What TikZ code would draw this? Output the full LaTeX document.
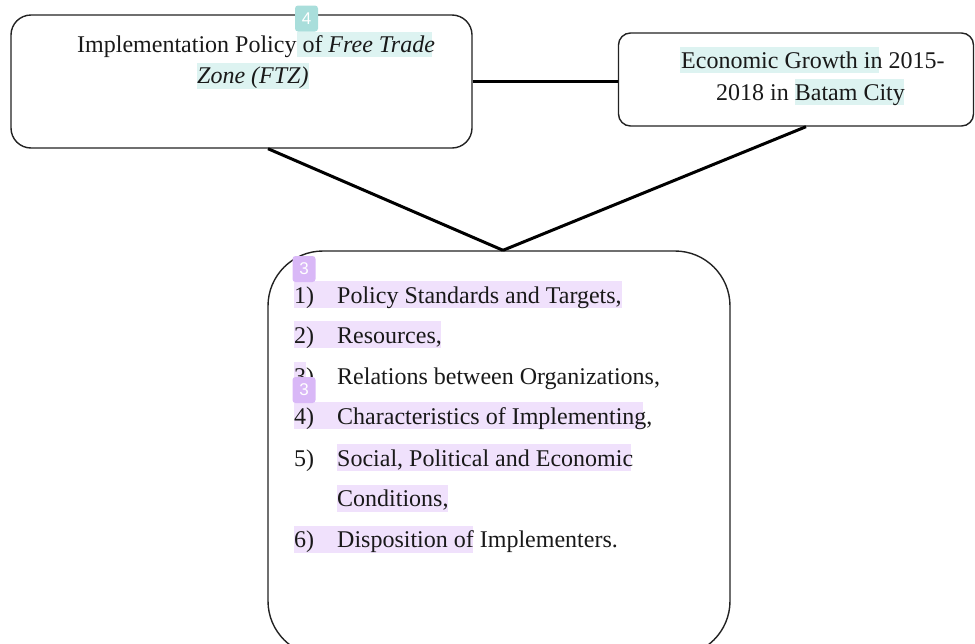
\documentclass[tikz,border=0pt]{standalone}
\usepackage{fontspec}
\setmainfont{Liberation Serif}
\newfontfamily\tagfont{Liberation Sans}
\usetikzlibrary{calc}
\definecolor{tealhl}{HTML}{DDF3F1}
\definecolor{tealtag}{HTML}{A9DEDB}
\definecolor{purphl}{HTML}{F0E1FC}
\definecolor{purptag}{HTML}{D9B8F7}
\definecolor{boxline}{HTML}{222222}
\tikzset{
  box/.style={draw=boxline, line width=1.4pt, rounded corners=#1},
  conn/.style={draw=black, line width=3pt},
  txt/.style={inner sep=0pt, anchor=base west, font=\fontsize{24}{28}\selectfont, text=black!90},
  tag/.style={fill=#1, rounded corners=3pt, inner sep=0pt, minimum width=23pt, minimum height=26pt, text=white, font=\tagfont\fontsize{17}{17}\selectfont},
}
\begin{document}
\begin{tikzpicture}[x=1pt,y=-1pt]
\useasboundingbox (0,0) rectangle (975,643);
\clip (0,0) rectangle (975,643);
% boxes
\node[box=20pt, minimum width=461pt, minimum height=133pt, inner sep=0pt] (b1) at (241.5,81.5) {};
\node[box=12pt, minimum width=355pt, minimum height=93pt, inner sep=0pt] (b2) at (796,79.5) {};
\node[box=55pt, minimum width=462pt, minimum height=405pt, inner sep=0pt] (b3) at (499,453.5) {};
% connectors
\coordinate (apex) at ($(b3.north)+(4,0)$);
\draw[conn] (b1.east) -- (b1.east -| b2.west);
\draw[conn] ($(b1.south)+(26.5,0)$) -- (apex);
\draw[conn] ($(b2.south)+(10,0)$) -- (apex);
% highlights
\fill[tealhl] (297,32) rectangle (432,57);
\fill[tealhl] (197,63) rectangle (309,89);
\fill[tealhl] (680,47) rectangle (879,73);
\fill[tealhl] (795,79) rectangle (904,105);
\fill[purphl] (294,281) rectangle (622,308);
\fill[purphl] (294,321) rectangle (441,348);
\fill[purphl] (294,362) rectangle (306,388);
\fill[purphl] (294,402) rectangle (643,429);
\fill[purphl] (337,444) rectangle (631,471);
\fill[purphl] (337,485) rectangle (448,512);
\fill[purphl] (294,526) rectangle (473,553);
% box 1 text
\node[txt] (t1a) at (77,52) {Implementation Policy of \textit{Free Trade}};
\node[txt] (t1b) at (197,83) {\textit{Zone (FTZ)}};
% box 2 text
\node[txt] (t2a) at (681,68) {Economic Growth in 2015-};
\node[txt] (t2b) at (716,100) {2018 in Batam City};
% list
\foreach \n/\y/\t in {1/303/{Policy Standards and Targets,},2/343/{Resources,},3/384/{Relations between Organizations,},4/424/{Characteristics of Implementing,},5/466/{Social, Political and Economic},6/547/{Disposition of Implementers.}}{
  \node[txt] (n\n) at (294,\y) {\n)};
  \node[txt] (l\n) at (337,\y) {\t};
}
\node[txt] (l5b) at (337,506) {Conditions,};
% tags
\node[tag=tealtag] (g4) at (306.5,18.5) {4};
\node[tag=purptag] (g3a) at (304,269) {3};
\node[tag=purptag] (g3b) at (304,390) {3};
\end{tikzpicture}
\end{document}
